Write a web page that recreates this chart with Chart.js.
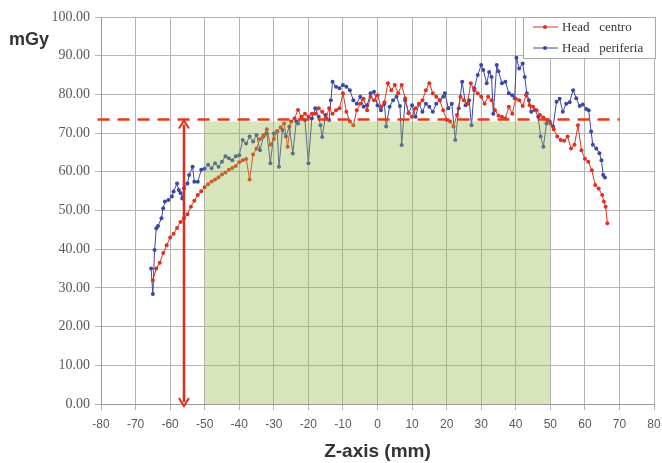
<!DOCTYPE html>
<html>
<head>
<meta charset="utf-8">
<script src="https://cdn.jsdelivr.net/npm/chart.js@4.4.1/dist/chart.umd.min.js"></script>
<style>
  html, body { margin: 0; padding: 0; background: #fff; }
  #wrap { width: 662px; height: 463px; }
</style>
</head>
<body>
<div id="wrap"><canvas id="doseChart" width="662" height="463"></canvas></div>
<script>
// Profilo di dose lungo l'asse Z
const seriesNames = ['Head   centro', 'Head   periferia'];

const zCentro = [-65, -64, -63, -62, -61, -60, -59, -58, -57, -56, -55, -54, -53, -52, -51, -50,
  -49, -48, -47, -46, -45, -44, -43, -42, -41, -40, -39, -38, -37, -36, -35, -34, -33, -32, -31,
  -30, -29, -28, -27, -26, -25, -24, -23, -22, -21, -20, -19, -18, -17, -16, -15, -14, -13, -12,
  -11, -10, -9, -8, -7, -6, -5, -4, -3, -2, -1, 0, 1, 2, 3, 4, 5, 6, 7, 8, 9, 10, 11, 12, 13, 14,
  15, 16, 17, 18, 19, 20, 21, 22, 23, 24, 25, 26, 27, 28, 29, 30, 31, 32, 33, 34, 35, 36, 37, 38,
  39, 40, 41, 42, 43, 44, 45, 46, 47, 48, 49, 50, 51, 52, 53, 54, 55, 56, 57, 58, 59, 60, 61, 62,
  63, 64, 65, 65.5, 66, 66.5];
const doseCentro = [32, 35, 36.5, 39, 41, 43, 44, 45.5, 47, 48, 49, 51, 52.5, 54, 55, 56,
  56.8, 57.5, 58, 58.6, 59.3, 59.8, 60.5, 61, 61.5, 62.5, 63, 63.3, 58, 64.5, 66, 68.5, 69.5, 71, 67,
  68.5, 70.5, 71.5, 72.5, 66.5, 73, 73.8, 76, 74, 75, 74.2, 75, 75, 76.4, 75.5, 73.8, 76.4, 75, 75.9,
  76.4, 80.3, 75.5, 73, 72, 75.9, 77.6, 78.9, 75.9, 79.4, 78.5, 79.8, 76.8, 78, 82.9, 81.1, 82.4, 80.3, 82.4, 79, 75.1, 74.2, 76.4, 77.5, 78.5, 81.1,
  82.9, 80.3, 79.4, 78.5, 75.9, 73.4, 73, 71.7, 74.7, 79.4, 78.5, 77.6, 82.9, 81.1, 80.3, 79.4, 77.6, 79.4, 78.5, 75.9, 74.5, 74.2, 73.8, 76.8,
  75, 78.9, 78.5, 77, 79.8, 77.2, 76.8, 75.9, 74.7, 74, 73.4, 72.5, 71, 69.1, 68.2, 68, 69.1, 66, 67, 72, 65.6, 63.4, 62.6, 60.4,
  56.6, 55.7, 54, 52.3, 51, 46.7];

const zPeriferia = [-65.5, -65, -64.5, -64, -63.5, -62.5, -62, -61.5, -60.5, -59.5, -59, -58, -57.5, -57,
  -56.5, -56, -55, -54.5, -53.5, -53, -52, -51, -50, -49, -48, -47, -46, -45, -44, -43, -42, -41, -40,
  -39, -38, -37, -36, -35, -34, -33, -32, -31, -30, -29, -28.5, -27.5, -26.5, -25.5, -24.5, -23.5, -23,
  -22, -21, -20, -19, -18, -17, -16.5, -16, -15, -14, -13.5, -13, -12, -11, -10, -9, -8, -7, -6, -5, -4,
  -3, -2, -1, 0, 1, 2, 2.5, 3.5, 4.5, 5.5, 6.5, 7, 8, 9, 10, 11, 12, 13, 14, 15, 16, 17, 18, 19, 19.5,
  20.5, 21.5, 22.5, 23.5, 24.5, 25.5, 26.5, 27.2, 28, 29, 30, 30.6, 31.6, 32.3, 33, 33.5, 34.5, 35, 36,
  37, 38, 39, 39.7, 40.2, 41, 42, 42.6, 43.2, 43.8, 44.5, 45.5, 46.5, 47.2, 48, 48.9, 49.8, 50.8, 51.8,
  52.7, 53.6, 54.6, 55.6, 56.6, 57.5, 58.5, 59.4, 60.4, 61.1, 61.8, 62.3, 63.3, 64.2, 64.8, 65.3, 65.8];
const dosePeriferia = [35, 28.4, 39.8, 45.4, 46, 48, 50.6, 52.3, 52.7, 53.6, 54.9, 57, 55.3, 54.5,
  53.1, 55.7, 57, 59.2, 61.3, 57.4, 57.4, 60.5, 60.8, 61.8, 60.9, 62.2, 61.3, 62.6, 64, 63.5, 63, 64, 64.3,
  68.2, 67.3, 69.1, 67.8, 69.5, 65.6, 69.1, 69.9, 62.2, 69.9, 70.5, 61.3, 70.8, 69.1, 71.7, 64.7, 73, 72.5,
  74.2, 73.4, 62.2, 73.8, 76.4, 74.2, 72, 69, 74.7, 73.4, 78.5, 83.3, 82, 81.6, 82.4, 82, 81.1, 78.5, 77.6, 79.4, 76.8,
  77.2, 80.3, 80.7, 77.2, 75.9, 77.6, 71.7, 76.8, 78.5, 79.4, 77, 66.9, 78.5, 75.1, 77.2, 74.2, 77.6, 75.5, 77.6, 76.8, 75.5, 77.6, 78.5, 79.4, 80.3,
  76.4, 77.6, 68.2, 76.4, 83.3, 77.2, 78.5, 72, 81.6, 85, 87.6, 86.3, 82.9, 85.8, 84.5, 75, 87.6, 86, 82.9,
  83.3, 80.3, 79.8, 79, 89.5, 86.7, 88, 84.5, 80.3, 78.5, 75.5, 76, 74.2, 69.1, 66.5, 72.5, 73, 71.7, 78.1,
  78.9, 75.5, 77.6, 78, 81.1, 79, 77, 77.4, 76.2, 75.9, 70.4, 67, 66, 64.8, 63, 59.2, 58.5];

// Campo (zona verde), livello di plateau e posizione della freccia
const fieldZ = [-50, 50];
const fieldTop = 73;
const plateauDose = 73.5;
const plateauZ = [-81, 70];
const arrowZ = -56;

const coloreCentro = '#e0301e';
const colorePeriferia = '#3b47a6';

function toPoints(xs, ys) {
  return xs.map((x, i) => ({ x: x, y: ys[i] }));
}

// Disegna zona verde, linea tratteggiata, freccia, legenda e etichetta mGy
const overlayPlugin = {
  id: 'overlay',
  afterDatasetsDraw(chart) {
    const ctx = chart.ctx;
    const xs = chart.scales.x;
    const ys = chart.scales.y;

    // zona verde semitrasparente sopra le curve
    ctx.save();
    const gx1 = xs.getPixelForValue(fieldZ[0]);
    const gx2 = xs.getPixelForValue(fieldZ[1]);
    const gy1 = ys.getPixelForValue(fieldTop);
    const gy2 = ys.getPixelForValue(0);
    ctx.fillStyle = 'rgba(150, 185, 80, 0.38)';
    ctx.fillRect(gx1, gy1, gx2 - gx1, gy2 - gy1);

    // linea di plateau tratteggiata
    const py = ys.getPixelForValue(plateauDose);
    ctx.strokeStyle = '#e43a1c';
    ctx.lineWidth = 2.5;
    ctx.setLineDash([12, 8]);
    ctx.beginPath();
    ctx.moveTo(xs.getPixelForValue(plateauZ[0]), py);
    ctx.lineTo(xs.getPixelForValue(plateauZ[1]), py);
    ctx.stroke();
    ctx.setLineDash([]);

    // freccia doppia verticale
    const ax = xs.getPixelForValue(arrowZ);
    const ay1 = ys.getPixelForValue(plateauDose) + 1;
    const ay2 = ys.getPixelForValue(0) + 2;
    ctx.strokeStyle = '#e32b1c';
    ctx.fillStyle = '#e32b1c';
    ctx.lineWidth = 2.5;
    ctx.beginPath();
    ctx.moveTo(ax, ay1 + 4);
    ctx.lineTo(ax, ay2 - 4);
    ctx.stroke();
    ctx.lineWidth = 2;
    ctx.beginPath();
    ctx.moveTo(ax - 5, ay1 + 8);
    ctx.lineTo(ax, ay1);
    ctx.lineTo(ax + 5, ay1 + 8);
    ctx.stroke();
    ctx.beginPath();
    ctx.moveTo(ax - 5, ay2 - 8);
    ctx.lineTo(ax, ay2);
    ctx.lineTo(ax + 5, ay2 - 8);
    ctx.stroke();

    // legenda
    const lx = 523, ly = 17, lw = 132, lh = 41;
    ctx.fillStyle = '#ffffff';
    ctx.fillRect(lx, ly, lw, lh);
    ctx.strokeStyle = '#a8a8a8';
    ctx.lineWidth = 1;
    ctx.strokeRect(lx + 0.5, ly + 0.5, lw, lh);
    const colori = [coloreCentro, colorePeriferia];
    seriesNames.forEach((name, i) => {
      const y = ly + 10 + i * 21;
      ctx.strokeStyle = colori[i];
      ctx.lineWidth = 1;
      ctx.beginPath();
      ctx.moveTo(lx + 10, y);
      ctx.lineTo(lx + 35, y);
      ctx.stroke();
      ctx.fillStyle = colori[i];
      ctx.beginPath();
      ctx.arc(lx + 22, y, 2, 0, Math.PI * 2);
      ctx.fill();
      ctx.fillStyle = '#333333';
      ctx.font = '13px "Liberation Serif"';
      ctx.textAlign = 'left';
      ctx.textBaseline = 'middle';
      ctx.fillText(name, lx + 39, y + 1);
    });

    // unita' asse y
    ctx.fillStyle = '#333333';
    ctx.font = 'bold 18px "Liberation Sans"';
    ctx.textAlign = 'left';
    ctx.textBaseline = 'middle';
    ctx.fillText('mGy', 9, 40);
    ctx.restore();
  }
};

const ctx = document.getElementById('doseChart').getContext('2d');
new Chart(ctx, {
  type: 'scatter',
  data: {
    datasets: [{
      label: seriesNames[0],
      data: toPoints(zCentro, doseCentro),
      showLine: true,
      borderColor: coloreCentro,
      backgroundColor: coloreCentro,
      borderWidth: 1,
      pointRadius: 2,
      pointBorderWidth: 0,
      tension: 0
    }, {
      label: seriesNames[1],
      data: toPoints(zPeriferia, dosePeriferia),
      showLine: true,
      borderColor: colorePeriferia,
      backgroundColor: colorePeriferia,
      borderWidth: 1,
      pointRadius: 2,
      pointBorderWidth: 0,
      tension: 0
    }]
  },
  options: {
    responsive: false,
    animation: false,
    layout: { padding: { top: 17, right: 8, left: 0, bottom: 0 } },
    plugins: {
      legend: { display: false },
      tooltip: { enabled: false }
    },
    scales: {
      x: {
        type: 'linear',
        min: -80,
        max: 80,
        ticks: {
          stepSize: 10,
          padding: 7,
          color: '#595959',
          font: { family: '"Liberation Sans"', size: 12 }
        },
        grid: { color: '#b4b4b4', tickLength: 6 },
        border: { color: '#9a9a9a' },
        title: {
          display: true,
          text: 'Z-axis (mm)',
          color: '#333333',
          font: { family: '"Liberation Sans"', size: 19, weight: 'bold' },
          padding: { top: 0, bottom: 0 }
        },
        afterFit(scale) {
          scale.height = 59;
          scale.paddingRight = 0;
          scale.paddingLeft = 0;
        }
      },
      y: {
        min: 0,
        max: 100,
        ticks: {
          stepSize: 10,
          padding: 5,
          color: '#595959',
          font: { family: '"Liberation Serif"', size: 14 },
          callback: (v) => Number(v).toFixed(2)
        },
        grid: { color: '#b4b4b4', tickLength: 6 },
        border: { color: '#9a9a9a' },
        afterFit(scale) { scale.width = 101; }
      }
    }
  },
  plugins: [overlayPlugin]
});
</script>
</body>
</html>
